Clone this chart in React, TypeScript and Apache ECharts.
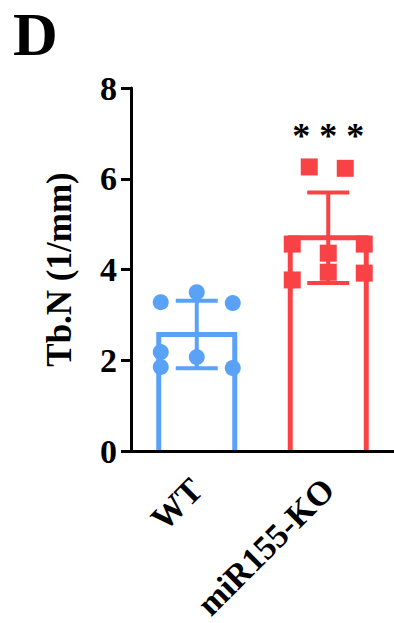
import React, { useEffect, useRef } from "react";
import * as echarts from "echarts";

const categories = ["WT", "miR155-KO"];
const wtValues = [3.28, 3.5, 3.26, 2.18, 2.07, 1.85, 1.83];
const koValues = [6.26, 6.23, 4.56, 4.56, 4.36, 3.94, 3.77, 3.92];
const yTicks = [0, 2, 4, 6, 8];
const significance = "* * *";
const significanceLevel = 6.95;

// horizontal scatter placement of each dot (pixels), layout only
const wtOffsets = [-36, 0, 36, -36, 0, -36, 36];
const koOffsets = [-19, 17, -36, 36, 0, 0, -36, 36];

const colors = ["#5aa2f8", "#f94245"];
const FONT = "'Liberation Serif', 'Times New Roman', serif";

function mean(a: number[]) {
  return a.reduce((s, v) => s + v, 0) / a.length;
}
function sd(a: number[]) {
  const m = mean(a);
  return Math.sqrt(a.reduce((s, v) => s + (v - m) * (v - m), 0) / (a.length - 1));
}

export default function App() {
  const ref = useRef<HTMLDivElement>(null);
  useEffect(() => {
    if (!ref.current) return;
    const chart = echarts.init(ref.current, null, { renderer: "svg" });
    const groups = [wtValues, koValues];
    const stats = groups.map((g, i) => [i, mean(g), sd(g)]);
    const option: any = {
      animation: false,
      backgroundColor: "#ffffff",
      title: {
        text: "D",
        left: 8,
        top: -2,
        textStyle: { fontSize: 62, fontWeight: "bold", fontFamily: FONT, color: "#000" },
      },
      grid: { left: 131, right: 0, top: 88, bottom: 172, outerBoundsMode: "none", containLabel: false },
      xAxis: {
        type: "category",
        data: categories,
        z: 10,
        axisLine: { lineStyle: { color: "#000", width: 3 } },
        axisTick: { alignWithLabel: true, length: 10, lineStyle: { color: "#000", width: 3 } },
        axisLabel: {
          rotate: 45,
          margin: 33,
          color: "#000",
          fontSize: 34,
          fontWeight: "bold",
          fontFamily: FONT,
          interval: 0,
        },
        splitLine: { show: false },
      },
      yAxis: {
        type: "value",
        min: yTicks[0],
        max: yTicks[yTicks.length - 1],
        interval: yTicks[1] - yTicks[0],
        name: "Tb.N (1/mm)",
        nameLocation: "middle",
        nameGap: 54,
        nameRotate: 90,
        nameTextStyle: { fontSize: 35, fontWeight: "bold", fontFamily: FONT, color: "#000" },
        axisLine: { show: true, lineStyle: { color: "#000", width: 3 } },
        axisTick: { show: true, length: 10, lineStyle: { color: "#000", width: 3 } },
        axisLabel: { color: "#000", fontSize: 34, fontWeight: "bold", fontFamily: FONT, margin: 14 },
        splitLine: { show: false },
      },
      series: [
        {
          type: "custom",
          name: "bars",
          z: 2,
          data: stats.map((s) => [s[0], s[1]]),
          renderItem: (params: any, api: any) => {
            const idx = api.value(0);
            const top = api.coord([idx, api.value(1)]);
            const base = api.coord([idx, 0]);
            const hw = 38;
            return {
              type: "polyline",
              shape: {
                points: [
                  [top[0] - hw, base[1]],
                  [top[0] - hw, top[1]],
                  [top[0] + hw, top[1]],
                  [top[0] + hw, base[1]],
                ],
              },
              style: { stroke: colors[idx], lineWidth: 5, fill: null, lineJoin: "miter" },
            };
          },
        },
        {
          type: "custom",
          name: "error",
          z: 3,
          data: stats,
          renderItem: (params: any, api: any) => {
            const idx = api.value(0);
            const m = api.value(1);
            const s = api.value(2);
            const top = api.coord([idx, m + s]);
            const bot = api.coord([idx, m - s]);
            const hw = 21;
            const style = { stroke: colors[idx], lineWidth: 4 };
            return {
              type: "group",
              children: [
                { type: "line", shape: { x1: top[0], y1: top[1], x2: bot[0], y2: bot[1] }, style },
                { type: "line", shape: { x1: top[0] - hw, y1: top[1], x2: top[0] + hw, y2: top[1] }, style },
                { type: "line", shape: { x1: bot[0] - hw, y1: bot[1], x2: bot[0] + hw, y2: bot[1] }, style },
              ],
            };
          },
        },
        {
          type: "scatter",
          z: 4,
          symbol: "circle",
          symbolSize: 16,
          itemStyle: { color: colors[0], opacity: 1 },
          data: wtValues.map((v, i) => ({ value: [0, v], symbolOffset: [wtOffsets[i], 0] })),
        },
        {
          type: "scatter",
          z: 4,
          symbol: "rect",
          symbolSize: 17,
          itemStyle: { color: colors[1], opacity: 1 },
          data: koValues.map((v, i) => ({ value: [1, v], symbolOffset: [koOffsets[i], 0] })),
        },
        {
          type: "custom",
          name: "significance",
          z: 5,
          data: [[1, significanceLevel]],
          renderItem: (params: any, api: any) => {
            const p = api.coord([api.value(0), api.value(1)]);
            return {
              type: "text",
              x: p[0],
              y: p[1],
              style: {
                text: significance,
                fontSize: 36,
                fontWeight: "bold",
                fontFamily: FONT,
                fill: "#000",
                align: "center",
                verticalAlign: "middle",
              },
            };
          },
        },
      ],
    };
    chart.setOption(option);
    return () => chart.dispose();
  }, []);
  return (
    <div
      ref={ref}
      style={{ position: "fixed", left: 0, top: 0, width: 394, height: 623, background: "#fff" }}
    />
  );
}
